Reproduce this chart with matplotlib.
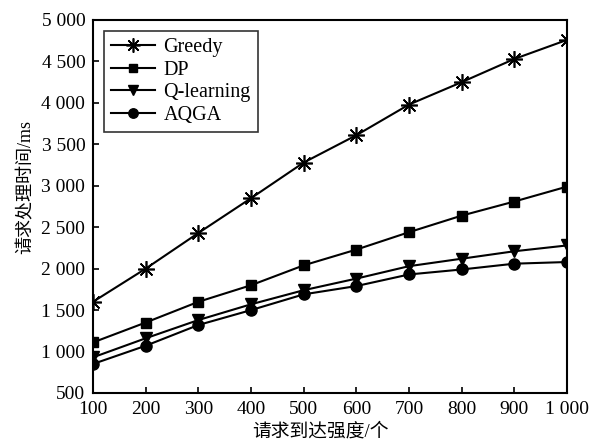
import matplotlib
matplotlib.use("Agg")
import matplotlib.pyplot as plt
from matplotlib.ticker import FuncFormatter

plt.rcParams['font.family'] = ['Liberation Serif', 'Noto Sans CJK SC', 'DejaVu Sans']

# request arrival intensity
x = [100, 200, 300, 400, 500, 600, 700, 800, 900, 1000]

greedy = [1600, 2000, 2430, 2850, 3280, 3610, 3980, 4250, 4530, 4760]
dp = [1110, 1350, 1600, 1800, 2040, 2230, 2440, 2640, 2810, 2990]
qlearn = [930, 1160, 1380, 1570, 1740, 1880, 2030, 2120, 2210, 2280]
aqga = [850, 1070, 1320, 1500, 1690, 1790, 1930, 1990, 2060, 2080]

xticks = [100, 200, 300, 400, 500, 600, 700, 800, 900, 1000]
yticks = [500, 1000, 1500, 2000, 2500, 3000, 3500, 4000, 4500, 5000]

def fmt(v, pos=None):
    v = int(round(v))
    if v >= 1000:
        return "%d %03d" % (v // 1000, v % 1000)
    return str(v)

fig = plt.figure(figsize=(6.02, 4.43), dpi=100)
ax = fig.add_axes([0.1545, 0.1129, 0.7875, 0.842])

lw = 1.5
ax.plot(x, greedy, color='k', lw=lw, marker=(8, 2, 0), ms=12, mew=1.2, label='Greedy')
ax.plot(x, dp, color='k', lw=lw, marker='s', ms=7.5, label='DP')
ax.plot(x, qlearn, color='k', lw=lw, marker='v', ms=9, label='Q-learning')
ax.plot(x, aqga, color='k', lw=lw, marker='o', ms=8, label='AQGA')

ax.set_xlim(100, 1000)
ax.set_ylim(500, 5000)
ax.set_xticks(xticks)
ax.set_yticks(yticks)
ax.xaxis.set_major_formatter(FuncFormatter(fmt))
ax.yaxis.set_major_formatter(FuncFormatter(fmt))
ax.tick_params(direction='in', length=4, width=1.2, labelsize=14)
ax.tick_params(axis='x', pad=6)
ax.tick_params(axis='y', pad=5.5)
for s in ax.spines.values():
    s.set_linewidth(1.5)

ax.set_xlabel('请求到达强度/个', fontsize=13.5)
ax.set_ylabel('请求处理时间/ms', fontsize=13)
ax.xaxis.set_label_coords(0.479, -0.080)
ax.yaxis.set_label_coords(-0.124, 0.552)

leg = ax.legend(loc='upper left', fontsize=14.5, frameon=True, fancybox=False,
                handlelength=2.2, handletextpad=0.4, borderpad=0.35,
                labelspacing=0.17, borderaxespad=0.55, markerscale=0.85)
leg.get_frame().set_edgecolor('k')
leg.get_frame().set_linewidth(1.2)

fig.savefig('out.png', dpi=100)
